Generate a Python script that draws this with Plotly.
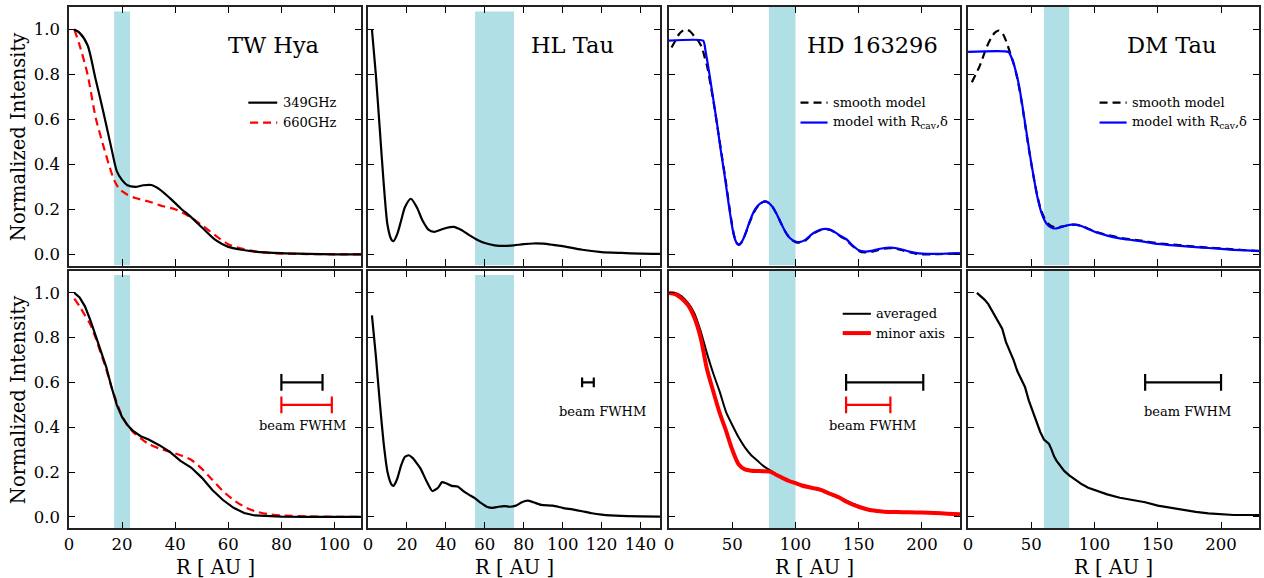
import plotly.graph_objects as go

# ---------------- data ----------------
# TW Hya (top): 349 GHz and 660 GHz
tw_r349 = [2, 4, 7, 10, 13, 16, 18, 20, 22, 25, 28, 31, 34, 38, 42, 46, 50, 55, 60, 65, 70, 80, 90, 100, 110]
tw_i349 = [1.0, 0.985, 0.93, 0.78, 0.63, 0.47, 0.37, 0.33, 0.307, 0.30, 0.307, 0.308, 0.29, 0.25, 0.205,
           0.165, 0.12, 0.065, 0.033, 0.02, 0.012, 0.005, 0.002, 0.0, 0.0]
tw_r660 = [2, 4, 7, 10, 13, 15, 17, 19, 22, 25, 30, 35, 40, 45, 50, 55, 60, 65, 70, 75, 80, 90, 100, 110]
tw_i660 = [1.0, 0.93, 0.80, 0.61, 0.48, 0.40, 0.33, 0.29, 0.265, 0.25, 0.235, 0.215, 0.20, 0.17, 0.13,
           0.085, 0.045, 0.025, 0.013, 0.006, 0.003, 0.001, 0.0, 0.0]
# TW Hya (bottom)
twb_r = [2, 4, 6, 8, 10, 12, 14, 16, 18, 20, 22, 24, 27, 30, 34, 38, 42, 46, 50, 54, 58, 62, 66, 70, 75,
         80, 90, 100, 110]
twb_i349 = [1.0, 0.98, 0.94, 0.88, 0.81, 0.74, 0.67, 0.58, 0.50, 0.445, 0.41, 0.385, 0.36, 0.345, 0.32,
            0.29, 0.25, 0.22, 0.175, 0.12, 0.075, 0.04, 0.017, 0.006, 0.002, 0.001, 0.0, 0.0, 0.0]
twb_i660 = [0.975, 0.94, 0.90, 0.86, 0.80, 0.73, 0.66, 0.58, 0.51, 0.45, 0.41, 0.38, 0.35, 0.325, 0.305,
            0.29, 0.275, 0.255, 0.215, 0.165, 0.115, 0.075, 0.045, 0.025, 0.012, 0.006, 0.002, 0.0, 0.0]

# HL Tau
hl_r = [2, 4, 6, 8, 10, 12, 13, 15, 17, 19, 22, 25, 28, 31, 34, 37, 40, 44, 48, 52, 56, 60, 65, 70, 75,
        80, 85, 90, 95, 100, 110, 120, 130, 140, 150]
hl_i = [1.0, 0.80, 0.56, 0.32, 0.13, 0.065, 0.058, 0.09, 0.15, 0.21, 0.247, 0.21, 0.15, 0.11, 0.10, 0.108,
        0.117, 0.122, 0.108, 0.085, 0.065, 0.05, 0.04, 0.037, 0.04, 0.045, 0.048, 0.047, 0.042, 0.036,
        0.02, 0.01, 0.006, 0.003, 0.002]
hlb_r = [2, 4, 6, 8, 10, 12, 13, 15, 17, 19, 21, 23, 25, 27, 30, 33, 36, 38, 40, 43, 46, 49, 52, 55, 58,
         61, 64, 67, 70, 73, 76, 79, 82, 85, 89, 95, 100, 105, 110, 115, 120, 130, 140, 150]
hlb_i = [0.90, 0.72, 0.515, 0.33, 0.20, 0.145, 0.138, 0.17, 0.23, 0.268, 0.275, 0.262, 0.24, 0.215, 0.16,
         0.115, 0.13, 0.155, 0.15, 0.138, 0.135, 0.115, 0.098, 0.082, 0.062, 0.045, 0.04, 0.045, 0.048,
         0.045, 0.05, 0.065, 0.072, 0.065, 0.053, 0.05, 0.04, 0.033, 0.025, 0.016, 0.01, 0.004, 0.002, 0.001]

# HD 163296 (top): smooth model and model with R_cav, delta
hd_r = [0, 27, 29, 32, 35, 38, 41, 44, 47, 50, 52, 54, 56, 58, 61, 64, 68, 72, 76, 79, 82, 85, 88, 92, 96,
        100, 104, 108, 112, 116, 120, 124, 128, 132, 136, 140, 145, 150, 155, 160, 165, 170, 175, 180, 185,
        190, 195, 200, 210, 220, 230]
hd_cav = [0.95, 0.95, 0.90, 0.80, 0.69, 0.58, 0.46, 0.35, 0.23, 0.12, 0.07, 0.047, 0.045, 0.06, 0.10, 0.15,
          0.20, 0.225, 0.235, 0.228, 0.21, 0.18, 0.145, 0.10, 0.07, 0.057, 0.055, 0.065, 0.085, 0.10, 0.11,
          0.113, 0.108, 0.095, 0.08, 0.068, 0.04, 0.018, 0.012, 0.015, 0.022, 0.028, 0.03, 0.027, 0.02,
          0.012, 0.006, 0.003, 0.002, 0.003, 0.005]
hd_sr = [2, 5, 8, 11, 14, 17, 20, 23, 26, 28, 30, 33, 36, 39, 42, 45, 48, 51, 53, 55, 57, 60, 64, 68, 72,
         76, 79, 82, 85, 88, 92, 96, 100, 104, 108, 112, 116, 120, 124, 128, 132, 136, 140, 145, 150, 155,
         160, 165, 170, 175, 180, 185, 190, 195, 200, 210, 220, 230]
hd_smooth = [0.92, 0.95, 0.98, 0.995, 1.0, 0.99, 0.97, 0.95, 0.92, 0.88, 0.84, 0.75, 0.65, 0.54, 0.43,
             0.32, 0.20, 0.095, 0.055, 0.042, 0.05, 0.085, 0.145, 0.195, 0.225, 0.235, 0.228, 0.21, 0.18,
             0.145, 0.10, 0.068, 0.054, 0.052, 0.062, 0.082, 0.098, 0.108, 0.112, 0.107, 0.094, 0.078,
             0.064, 0.037, 0.015, 0.008, 0.011, 0.018, 0.025, 0.027, 0.024, 0.017, 0.009, 0.003, 0.0, 0.0,
             0.002, 0.004]
# HD 163296 (bottom): averaged and minor axis
hdb_r = [0, 5, 10, 15, 20, 25, 30, 35, 40, 45, 50, 55, 60, 65, 70, 75, 80, 85, 90, 95, 100, 105, 110, 115,
         120, 125, 130, 135, 140, 145, 150, 155, 160, 170, 180, 190, 200, 210, 220, 230]
hdb_avg = [1.0, 1.0, 0.985, 0.955, 0.91, 0.83, 0.73, 0.64, 0.56, 0.47, 0.41, 0.355, 0.31, 0.275, 0.25,
           0.225, 0.208, 0.19, 0.175, 0.162, 0.152, 0.142, 0.135, 0.128, 0.12, 0.109, 0.098, 0.086, 0.073,
           0.06, 0.048, 0.038, 0.031, 0.024, 0.022, 0.021, 0.02, 0.018, 0.015, 0.012]
hdb_minor = [1.0, 0.995, 0.975, 0.945, 0.89, 0.80, 0.66, 0.56, 0.465, 0.385, 0.30, 0.235, 0.212, 0.206,
             0.205, 0.204, 0.202, 0.187, 0.173, 0.16, 0.15, 0.14, 0.133, 0.127, 0.12, 0.108, 0.097, 0.085,
             0.068, 0.055, 0.045, 0.036, 0.029, 0.023, 0.021, 0.02, 0.019, 0.017, 0.014, 0.011]

# DM Tau (top)
dm_r = [0, 32, 34, 37, 40, 43, 46, 49, 52, 55, 58, 61, 64, 67, 70, 74, 78, 82, 86, 90, 95, 100, 110, 120,
        130, 140, 150, 160, 170, 180, 190, 200, 210, 220, 230]
dm_cav = [0.90, 0.90, 0.88, 0.83, 0.76, 0.66, 0.55, 0.44, 0.34, 0.25, 0.185, 0.145, 0.125, 0.116, 0.115,
          0.122, 0.128, 0.132, 0.131, 0.125, 0.113, 0.10, 0.083, 0.071, 0.063, 0.055, 0.046, 0.041, 0.036,
          0.032, 0.028, 0.024, 0.02, 0.017, 0.014]
dm_sr = [3, 6, 9, 12, 15, 18, 21, 24, 27, 30, 33, 36, 39, 42, 45, 48, 51, 54, 57, 60, 63, 66, 70, 74, 78,
         82, 86, 90, 95, 100, 110, 120, 130, 140, 150, 160, 170, 180, 190, 200, 210, 220, 230]
dm_smooth = [0.765, 0.80, 0.835, 0.88, 0.925, 0.96, 0.985, 0.995, 0.985, 0.95, 0.90, 0.85, 0.78, 0.69,
             0.58, 0.47, 0.37, 0.28, 0.21, 0.165, 0.138, 0.125, 0.12, 0.123, 0.128, 0.132, 0.131, 0.126,
             0.114, 0.102, 0.086, 0.074, 0.066, 0.058, 0.049, 0.044, 0.039, 0.034, 0.03, 0.026, 0.022,
             0.018, 0.015]
# DM Tau (bottom)
dmb_r = [7, 10, 13, 16, 20, 24, 27, 30, 33, 36, 39, 42, 45, 48, 51, 54, 57, 60, 62, 64, 66, 68, 70, 73, 76,
         80, 85, 90, 95, 100, 110, 120, 130, 140, 150, 160, 170, 180, 190, 200, 210, 220, 230]
dmb_i = [1.0, 0.985, 0.97, 0.95, 0.91, 0.87, 0.84, 0.78, 0.74, 0.70, 0.65, 0.615, 0.58, 0.52, 0.47, 0.42,
         0.38, 0.345, 0.335, 0.325, 0.30, 0.27, 0.25, 0.225, 0.205, 0.185, 0.165, 0.145, 0.13, 0.12, 0.10,
         0.085, 0.075, 0.065, 0.05, 0.04, 0.032, 0.022, 0.015, 0.01, 0.008, 0.008, 0.008]

# panel metadata
names = ["TW Hya", "HL Tau", "HD 163296", "DM Tau"]
x_max = [110, 150, 230, 230]
x_ticks = [[0, 20, 40, 60, 80, 100], [0, 20, 40, 60, 80, 100, 120, 140],
           [0, 50, 100, 150, 200], [0, 50, 100, 150, 200]]
y_ticks = [0.0, 0.2, 0.4, 0.6, 0.8, 1.0]
band_lo = [17, 55, 79, 60]
band_hi = [23, 75, 100, 80]
band_top_row1 = [1.08, 1.08, 1.1, 1.1]
band_top_row2 = [1.08, 1.08, 1.1, 1.1]

# beam FWHM bars: (col, x_start, x_end, y, color)
beam_bars = [
    (1, 80, 95.5, 0.6, "black"), (1, 80, 99, 0.5, "red"),
    (2, 110, 116, 0.6, "black"),
    (3, 140, 201, 0.6, "black"), (3, 140, 175, 0.5, "red"),
    (4, 140, 200, 0.6, "black"),
]
beam_text = [(1, 88, 0.41), (2, 120.5, 0.47), (3, 161, 0.41), (4, 173.5, 0.47)]

# ---------------- figure ----------------
FONT = "DejaVu Serif"
x_domains = [(0.0, 0.2454), (0.2513, 0.4966), (0.5042, 0.7487), (0.7555, 1.0)]
y_domains = {1: (0.5038, 1.0), 2: (0.0, 0.4942)}


def aid(r, c):
    k = (r - 1) * 4 + c
    return "" if k == 1 else str(k)


fig = go.Figure()


def add_line(r, c, x, y, color, width=2, dash=None, shape="spline", smoothing=0.7):
    a = aid(r, c)
    line = dict(color=color, width=width)
    if dash:
        line["dash"] = dash
    if shape == "spline":
        line["shape"] = "spline"
        line["smoothing"] = smoothing
    fig.add_trace(go.Scatter(x=x, y=y, mode="lines", line=line, xaxis="x" + a, yaxis="y" + a,
                             showlegend=False, hoverinfo="skip"))


# row 1
add_line(1, 1, tw_r660, tw_i660, "red", 2.2, "8px,5px")
add_line(1, 1, tw_r349, tw_i349, "black", 2.2)
add_line(1, 2, hl_r, hl_i, "black", 2.2)
add_line(1, 3, hd_sr, hd_smooth, "black", 2.2, "8px,5px")
add_line(1, 3, hd_r, hd_cav, "blue", 2.2, smoothing=0.5)
add_line(1, 4, dm_sr, dm_smooth, "black", 2.2, "8px,5px")
add_line(1, 4, dm_r, dm_cav, "blue", 2.2, smoothing=0.5)
# row 2
add_line(2, 1, twb_r, twb_i660, "red", 2.2, "8px,5px")
add_line(2, 1, twb_r, twb_i349, "black", 2.2, shape="linear")
add_line(2, 2, hlb_r, hlb_i, "black", 2.2, smoothing=0.5)
add_line(2, 3, hdb_r, hdb_avg, "black", 2.0)
add_line(2, 3, hdb_r, hdb_minor, "red", 4.0)
add_line(2, 4, dmb_r, dmb_i, "black", 2.2, shape="linear")

# beam bars
for (c, x0, x1, yv, col) in beam_bars:
    a = aid(2, c)
    cap = 7 if c == 2 else 12
    fig.add_trace(go.Scatter(x=[x0, x1], y=[yv, yv], mode="lines+markers", xaxis="x" + a, yaxis="y" + a,
                             line=dict(color=col, width=2.2),
                             marker=dict(symbol="line-ns", size=cap, line=dict(width=2.2, color=col)),
                             showlegend=False, hoverinfo="skip"))
for (c, xv, yv) in beam_text:
    a = aid(2, c)
    fig.add_annotation(x=xv, y=yv, xref="x" + a, yref="y" + a, text="beam FWHM", showarrow=False,
                       font=dict(family=FONT, size=13, color="black"), xanchor="center", yanchor="middle")

shapes = []
layout = {}
for r in (1, 2):
    for c in (1, 2, 3, 4):
        a = aid(r, c)
        i = c - 1
        xa = dict(domain=list(x_domains[i]), anchor="y" + a, range=[0, x_max[i]], tickvals=x_ticks[i],
                  showticklabels=(r == 2), ticks="inside", ticklen=6.5, tickwidth=1.3, tickcolor="black",
                  mirror="ticks", showline=True, linecolor="#222", linewidth=1.5, showgrid=False,
                  zeroline=False, automargin=False,
                  tickfont=dict(family=FONT, size=16.5, color="black"))
        ya = dict(domain=list(y_domains[r]), anchor="x" + a, range=[-0.05, 1.1], tickvals=y_ticks,
                  ticktext=["%.1f" % v for v in y_ticks], showticklabels=(c == 1), ticks="inside",
                  ticklen=6.5, tickwidth=1.3, tickcolor="black", mirror="ticks", showline=True,
                  linecolor="#222", linewidth=1.5, showgrid=False, zeroline=False, automargin=False,
                  tickfont=dict(family=FONT, size=16.5, color="black"), ticklabelstandoff=4)
        layout["xaxis" + a] = xa
        layout["yaxis" + a] = ya
        top = band_top_row1[i] if r == 1 else band_top_row2[i]
        shapes.append(dict(type="rect", xref="x" + a, yref="y" + a, x0=band_lo[i], x1=band_hi[i],
                           y0=-0.05, y1=top, fillcolor="#B0E0E6", line=dict(width=0), layer="below"))
        if r == 1:
            fig.add_annotation(x=0.70, y=0.854, xref="x%s domain" % a, yref="y%s domain" % a, text=names[i],
                               showarrow=False, font=dict(family=FONT, size=22.5, color="black"),
                               xanchor="center", yanchor="middle")
        if r == 2:
            fig.add_annotation(x=0.5, y=-0.153, xref="x%s domain" % a, yref="y%s domain" % a,
                               text="R [ AU ]", showarrow=False,
                               font=dict(family=FONT, size=19.5, color="black"),
                               xanchor="center", yanchor="middle")
        if c == 1:
            fig.add_annotation(x=-0.175, y=0.5, xref="x%s domain" % a, yref="y%s domain" % a,
                               text="Normalized Intensity", textangle=-90, showarrow=False,
                               font=dict(family=FONT, size=19.5, color="black"),
                               xanchor="center", yanchor="middle")


# legends (drawn in axis-domain coordinates)
def legend_entry(r, c, xs, xe, y, text, color, width, dash=None):
    a = aid(r, c)
    ln = dict(color=color, width=width)
    if dash:
        ln["dash"] = dash
    shapes.append(dict(type="line", xref="x%s domain" % a, yref="y%s domain" % a, x0=xs, x1=xe, y0=y, y1=y,
                       line=ln))
    fig.add_annotation(x=xe + 0.012, y=y, xref="x%s domain" % a, yref="y%s domain" % a, text=text,
                       showarrow=False, font=dict(family=FONT, size=13, color="black"),
                       xanchor="left", yanchor="middle")


legend_entry(1, 1, 0.614, 0.713, 0.630, "349GHz", "black", 2.2)
legend_entry(1, 1, 0.620, 0.713, 0.553, "660GHz", "red", 2.2, "8px,5px")
for c in (3, 4):
    legend_entry(1, c, 0.452, 0.545, 0.630, "smooth model", "black", 2.2, "8px,5px")
    legend_entry(1, c, 0.452, 0.545, 0.553, "model with R<sub>cav</sub>,δ", "blue", 2.2)
legend_entry(2, 3, 0.597, 0.694, 0.832, "averaged", "black", 2.0)
legend_entry(2, 3, 0.597, 0.694, 0.757, "minor axis", "red", 4.0)

fig.update_layout(**layout)
fig.update_layout(
    width=1264, height=578,
    margin=dict(l=69, r=5, t=7, b=50, autoexpand=False),
    paper_bgcolor="white", plot_bgcolor="white",
    shapes=shapes, showlegend=False,
    font=dict(family=FONT, color="black"),
)

fig.write_html("out.html", config={"displayModeBar": False},
               post_script="document.body.style.margin='0';document.body.style.overflow='hidden';")
